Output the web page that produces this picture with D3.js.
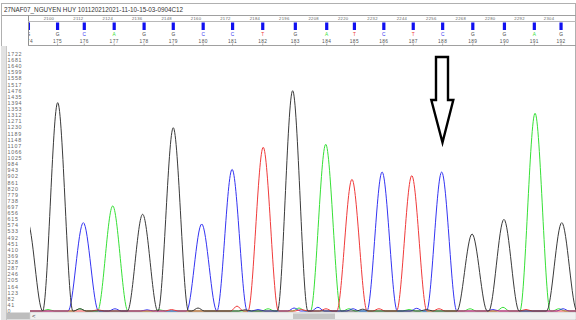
<!DOCTYPE html>
<html><head><meta charset="utf-8">
<script src="https://cdn.jsdelivr.net/npm/d3@7"></script>
<style>
html,body{margin:0;padding:0;background:#fff;}
svg{display:block;font-family:"Liberation Sans",Arial,sans-serif;}
</style></head>
<body><svg id="c" width="576" height="320"></svg>
<script>
const title = "27NAF07_NGUYEN HUY 101120212021-11-10-15-03-0904C12";
const scanTicks = [2100,2112,2124,2136,2148,2160,2172,2184,2196,2208,2220,2232,2244,2256,2268,2280,2292,2304];
const yTicks = [0,41,82,123,164,205,246,287,328,369,410,451,492,533,574,615,656,697,738,779,820,861,902,943,984,1025,1066,1107,1148,1189,1230,1271,1312,1353,1394,1435,1476,1517,1558,1599,1640,1681,1722];
const baseNums  = [174,175,176,177,178,179,180,181,182,183,184,185,186,187,188,189,190,191,192];
const baseCalls = ["G","G","C","A","G","G","C","C","T","G","A","T","C","T","C","G","G","A","G"];
const baseScans = [2091.6,2103.5,2114.4,2126.6,2138.8,2150.7,2162.9,2174.9,2187.2,2200.5,2213.3,2224.6,2236.6,2248.6,2260.6,2272.9,2285.8,2298.0,2308.9];
// peaks: [scan position, signal]
const peaksG = [[2091.2,600],[2103.55,1396],[2138.2,648],[2150.7,1228],[2199.4,1476],[2272.6,516],[2285.6,614],[2309.2,592]];
const peaksC = [[2114.0,592],[2162.3,583],[2174.7,949],[2235.9,931],[2260.2,931]];
const peaksA = [[2126.0,704],[2212.9,1117],[2298.3,1325]];
const peaksT = [[2187.4,1097],[2223.6,882],[2248.0,907]];
// small baseline bumps
const noiseG = [[2112.6,15],[2160.8,20],[2228,12],[2254,10],[2180,8]];
const noiseC = [[2126.9,15],[2185.3,10],[2200,20],[2209.7,25],[2224,15],[2250,18],[2281.1,10],[2309.7,15],[2140,8]];
const noiseA = [[2099.6,10],[2112.6,15],[2145,8],[2189.4,15],[2202,20],[2222.4,15],[2246.9,10],[2271.8,15],[2285.2,25],[2308,15]];
const noiseT = [[2120,8],[2150,10],[2176.7,33],[2203,10],[2213,15],[2234.6,15],[2259.1,15],[2294.6,10]];

const colors = {G:"#3a3a3a", C:"#3434f2", A:"#36e036", T:"#f03a3a"};

const svg = d3.select("#c");
const W = 576, H = 320;
const x = d3.scaleLinear().domain([2092.25, 2315]).range([30, 576]);
const y = d3.scaleLinear().domain([0, 1722]).range([311, 54]);

// frame
svg.append("rect").attr("x",1.5).attr("y",3.5).attr("width",W-2).attr("height",H-3).attr("fill","#fff").attr("stroke","#b0b0b0");
svg.append("text").attr("x",4).attr("y",11.5).attr("font-size",6.5).attr("fill","#333")
  .attr("textLength",179).attr("lengthAdjust","spacingAndGlyphs").text(title);
svg.append("line").attr("x1",2).attr("x2",W).attr("y1",15.5).attr("y2",15.5).attr("stroke","#a0a0a0");
svg.append("line").attr("x1",28.5).attr("x2",28.5).attr("y1",15.5).attr("y2",46).attr("stroke","#909090");
svg.append("line").attr("x1",28).attr("x2",W).attr("y1",21.5).attr("y2",21.5).attr("stroke","#b8b8b8");
svg.append("line").attr("x1",28).attr("x2",W).attr("y1",45.5).attr("y2",45.5).attr("stroke","#a0a0a0");
// left strip
svg.append("rect").attr("x",1).attr("y",46).attr("width",5).attr("height",H-46).attr("fill","#e2e2e2");
svg.append("line").attr("x1",6.5).attr("x2",6.5).attr("y1",46).attr("y2",H).attr("stroke","#c8c8c8");

// header clip
svg.append("clipPath").attr("id","hc").append("rect").attr("x",29).attr("y",15).attr("width",W-29).attr("height",31);
const hdr = svg.append("g").attr("clip-path","url(#hc)");
hdr.selectAll("text.sc").data(scanTicks).join("text").attr("class","sc")
  .attr("x",d=>x(d)).attr("y",20).attr("text-anchor","middle").attr("font-size",4.2).attr("fill","#666").attr("letter-spacing",0.3)
  .text(d=>d);
hdr.selectAll("rect.bc").data(baseScans).join("rect").attr("class","bc")
  .attr("x",d=>x(d)-1.6).attr("y",22.5).attr("width",3.2).attr("height",7.5).attr("fill","#1010f0");
hdr.selectAll("text.bl").data(baseScans).join("text").attr("class","bl")
  .attr("x",d=>x(d)).attr("y",36).attr("text-anchor","middle").attr("font-size",4.8)
  .attr("fill",(d,i)=>colors[baseCalls[i]]).text((d,i)=>baseCalls[i]);
hdr.selectAll("text.bn").data(baseScans).join("text").attr("class","bn")
  .attr("x",d=>x(d)).attr("y",42.5).attr("text-anchor","middle").attr("font-size",4.8).attr("fill","#555").attr("letter-spacing",0.4)
  .text((d,i)=>baseNums[i]);
hdr.selectAll("line.bt").data(baseScans).join("line").attr("class","bt")
  .attr("x1",d=>x(d)).attr("x2",d=>x(d)).attr("y1",43.5).attr("y2",45.5).attr("stroke","#777").attr("stroke-width",0.6);

// y labels
svg.selectAll("text.yl").data(yTicks).join("text").attr("class","yl")
  .attr("x",7.5).attr("y",d=>y(d)+2).attr("font-size",5.3).attr("fill","#666").attr("letter-spacing",0.75)
  .text(d=>d);

// traces
svg.append("clipPath").attr("id","pc").append("rect").attr("x",30).attr("y",46).attr("width",W-30).attr("height",266);
const plot = svg.append("g").attr("clip-path","url(#pc)");
const line = d3.line().x(d=>x(d[0])).y(d=>y(d[1])).curve(d3.curveMonotoneX);
function tracePoints(main, noise){
  const all = main.map(p=>[p[0],p[1],6.2]).concat(noise.map(p=>[p[0],p[1],2.6])).sort((a,b)=>a[0]-b[0]);
  const pts = [[2080,0]];
  let prev = 2080;
  all.forEach(p=>{
    const l = p[0]-p[2];
    if (l > prev + 0.05) pts.push([l,0]);
    pts.push([p[0],p[1]]);
    const r = p[0]+p[2];
    pts.push([r,0]);
    prev = r;
  });
  pts.push([2320,0]);
  const out=[]; pts.forEach(p=>{ if(!out.length || p[0]>out[out.length-1][0]) out.push(p); });
  return out;
}
const channels = [["A",peaksA,noiseA],["C",peaksC,noiseC],["T",peaksT,noiseT],["G",peaksG,noiseG]];
channels.forEach(([k,m,n])=>{
  plot.append("path").attr("d",line(tracePoints(m,n))).attr("fill","none")
    .attr("stroke",colors[k]).attr("stroke-width",1).attr("stroke-linejoin","round");
});

// arrow
const arrowPts = [[436,57],[448,57],[448,100],[453.3,100],[442.5,142.5],[431.3,100],[436,100]];
svg.append("polygon").attr("points",arrowPts.map(p=>p.join(",")).join(" "))
  .attr("fill","#fff").attr("stroke","#000").attr("stroke-width",2.4).attr("stroke-linejoin","miter");

// bottom scroll bar
svg.append("rect").attr("x",6.5).attr("y",312.5).attr("width",23.5).attr("height",7).attr("fill","#bdbdbd");
svg.append("rect").attr("x",30).attr("y",312.5).attr("width",W-30).attr("height",7).attr("fill","#f0f0f0").attr("stroke","#d0d0d0").attr("stroke-width",0.6);
svg.append("rect").attr("x",293).attr("y",313.5).attr("width",42).attr("height",5.5).attr("fill","#c6c6c6");
svg.append("text").attr("x",32).attr("y",318).attr("font-size",6).attr("fill","#333").text("<");
</script></body></html>
